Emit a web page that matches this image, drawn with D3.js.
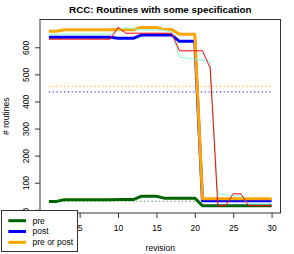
<!DOCTYPE html>
<html>
<head>
<meta charset="utf-8">
<title>RCC: Routines with some specification</title>
<script src="https://d3js.org/d3.v7.min.js"></script>
<style>
  body { margin: 0; background: #fff; }
  svg text { font-family: "Liberation Sans", Arial, Helvetica, sans-serif; fill: #000; }
</style>
</head>
<body>
<div id="chart"></div>
<script>
// values
var revisions = d3.range(1, 31);
var pre    = [31, 31, 37, 37, 37, 37, 37, 37, 37, 38, 38, 38, 50, 50, 50, 43, 43, 43, 43, 43,
              15, 15, 15, 15, 15, 15, 15, 15, 15, 15];
var post   = [637, 637, 637, 637, 637, 637, 637, 637, 637, 633, 633, 633, 645, 645, 645, 645, 645, 622, 622, 622,
              33, 33, 33, 33, 33, 33, 33, 33, 33, 33];
var either = [659, 659, 665, 665, 665, 665, 665, 665, 665, 665, 665, 665, 673, 673, 673, 666, 666, 648, 648, 648,
              41, 41, 41, 41, 41, 41, 41, 41, 41, 41];
var redSeries  = [630, 630, 630, 630, 630, 630, 630, 630, 630, 674, 652, 652, 652, 652, 652, 652, 652, 587, 587, 587,
                  587, 524, 15, 15, 59, 59, 15, 15, 15, 15];
var aquaSeries = [648, 648, 648, 648, 648, 648, 648, 648, 648, 660, 673, 668, 664, 664, 664, 664, 656, 564, 560, 556,
                  552, 549, 60, 55, 51, 51, 22, 22, 22, 22];
var legendLabels = ["pre", "post", "pre or post"];
var xTicks = [5, 10, 15, 20, 25, 30];
var yTicks = [0, 100, 200, 300, 400, 500, 600];

var W = 294, H = 254;
var plotLeft = 40, plotRight = 280.5, plotTop = 19.5, plotBottom = 213;

var svg = d3.select("#chart").append("svg")
    .attr("width", W).attr("height", H);

var x = d3.scaleLinear().domain([-0.16, 31.16]).range([plotLeft, plotRight]);
var y = d3.scaleLinear().domain([-11.8, 702.6]).range([plotBottom, plotTop]);

var line = d3.line()
    .x(function(d, i) { return x(revisions[i]); })
    .y(function(d) { return y(d); });

// mean lines (dotted)
var means = [
  { v: d3.mean(pre), c: "#006400" },
  { v: d3.mean(post), c: "#0000ff" },
  { v: d3.mean(either), c: "#ffa500" }
];
svg.selectAll(".mean")
  .data(means)
  .enter().append("line")
    .attr("x1", x(1)).attr("x2", x(30))
    .attr("y1", function(d) { return y(d.v); })
    .attr("y2", function(d) { return y(d.v); })
    .attr("stroke", function(d) { return d.c; })
    .attr("stroke-width", 1.2)
    .attr("stroke-dasharray", "1.2,2.6")
    .attr("opacity", 0.75);

// thick series
var thick = [
  { v: pre, c: "#006400" },
  { v: post, c: "#0000ff" },
  { v: either, c: "#ffa500" }
];
svg.selectAll(".thick")
  .data(thick)
  .enter().append("path")
    .attr("d", function(d) { return line(d.v); })
    .attr("fill", "none")
    .attr("stroke", function(d) { return d.c; })
    .attr("stroke-width", 3)
    .attr("stroke-linejoin", "round");

// thin series
var thin = [
  { v: aquaSeries, c: "#7fffd4" },
  { v: redSeries, c: "#ff0000" }
];
svg.selectAll(".thin")
  .data(thin)
  .enter().append("path")
    .attr("d", function(d) { return line(d.v); })
    .attr("fill", "none")
    .attr("stroke", function(d) { return d.c; })
    .attr("stroke-width", 1);

// frame
svg.append("rect")
    .attr("x", plotLeft).attr("y", plotTop)
    .attr("width", plotRight - plotLeft).attr("height", plotBottom - plotTop)
    .attr("fill", "none").attr("stroke", "#333").attr("stroke-width", 1);

// x axis
var gx = svg.append("g")
    .attr("transform", "translate(0," + plotBottom + ")")
    .call(d3.axisBottom(x).tickValues(xTicks).tickSize(5).tickSizeOuter(0));
gx.select(".domain").remove();
gx.selectAll("line").attr("stroke", "#333");
gx.selectAll("text")
    .attr("y", 18).attr("dy", 0)
    .style("font-size", "8.5px");

// y axis
var gy = svg.append("g")
    .attr("transform", "translate(" + plotLeft + ",0)")
    .call(d3.axisLeft(y).tickValues(yTicks).tickSize(5).tickSizeOuter(0));
gy.select(".domain").remove();
gy.selectAll("line").attr("stroke", "#333");
gy.selectAll("text")
    .attr("x", 0).attr("dy", 0)
    .attr("transform", "translate(-11.5,0) rotate(-90)")
    .attr("text-anchor", "middle")
    .style("font-size", "8.5px");

// title and labels
svg.append("text")
    .attr("x", (plotLeft + plotRight) / 2).attr("y", 13)
    .attr("text-anchor", "middle")
    .style("font-size", "9.8px").style("font-weight", "bold")
    .text("RCC: Routines with some specification");

svg.append("text")
    .attr("x", (plotLeft + plotRight) / 2).attr("y", 250.5)
    .attr("text-anchor", "middle")
    .style("font-size", "8.5px")
    .text("revision");

svg.append("text")
    .attr("transform", "translate(9," + ((plotTop + plotBottom) / 2) + ") rotate(-90)")
    .attr("text-anchor", "middle")
    .style("font-size", "8.5px")
    .text("# routines");

// legend
var lg = svg.append("g");
lg.append("rect")
    .attr("x", 1.5).attr("y", 210.5)
    .attr("width", 76).attr("height", 41)
    .attr("fill", "#fff").attr("stroke", "#333").attr("stroke-width", 1);
var rows = lg.selectAll(".row")
  .data(legendLabels)
  .enter().append("g")
    .attr("transform", function(d, i) { return "translate(0," + (220.7 + i * 10.8) + ")"; });
rows.append("line")
    .attr("x1", 8.3).attr("x2", 26)
    .attr("stroke", function(d, i) { return thick[i].c; })
    .attr("stroke-width", 3);
rows.append("text")
    .attr("x", 32.5).attr("dy", "0.35em")
    .style("font-size", "8.5px")
    .text(function(d) { return d; });
</script>
</body>
</html>
